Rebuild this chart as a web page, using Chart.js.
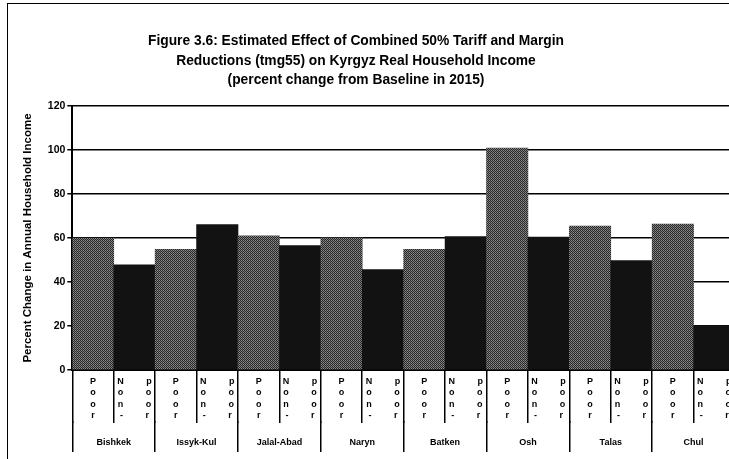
<!DOCTYPE html>
<html>
<head>
<meta charset="utf-8">
<script src="https://cdn.jsdelivr.net/npm/chart.js@4/dist/chart.umd.min.js"></script>
<style>
  html, body { margin: 0; padding: 0; background: #fff; overflow: hidden; }
  #wrap { position: relative; width: 740px; height: 459px; }
  #frame { position: absolute; left: 7px; top: 3px; width: 740px; height: 470px;
           border-left: 1.5px solid #000; border-top: 1.5px solid #000; }
  #title { position: absolute; left: 156px; width: 400px; top: 31px; text-align: center;
           font: bold 13.8px "Liberation Sans", Arial, sans-serif; line-height: 19.5px; color: #000;
           white-space: nowrap; }
  #title div { margin-left: -100px; margin-right: -100px; }
</style>
</head>
<body>
<div id="wrap">
  <div id="frame"></div>
  <canvas id="chart" width="740" height="459"></canvas>
  <div id="title">
    <div>Figure 3.6: Estimated Effect of Combined 50% Tariff and Margin</div>
    <div>Reductions (tmg55) on Kyrgyz Real Household Income</div>
    <div>(percent change from Baseline in 2015)</div>
  </div>
</div>
<script>
// valores (cambio % respecto a la línea base 2015)
const regions = ["Bishkek", "Issyk-Kul", "Jalal-Abad", "Naryn", "Batken", "Osh", "Talas", "Chul"];
const poor    = [60.0, 54.8, 61.0, 60.1, 54.8, 100.9, 65.4, 66.3];
const nonPoor = [47.8, 66.1, 56.6, 45.7, 60.7, 60.4, 49.7, 20.2];
const poorLabel    = ["P", "o", "o", "r"];
const nonPoorLabel = ["N         p", "o         o", "n         o", "-         r"];
const yMin = 0, yMax = 120, yStep = 20;

const FONT = "'Liberation Sans', Arial, sans-serif";

// trama gris punteada para las barras "Poor"
function ditherPattern() {
  const c = document.createElement("canvas");
  c.width = 2; c.height = 2;
  const g = c.getContext("2d");
  g.fillStyle = "#262626"; g.fillRect(0, 0, 2, 2);
  g.fillStyle = "#8e8e8e"; g.fillRect(1, 0, 1, 1);
  g.fillStyle = "#767676"; g.fillRect(0, 1, 1, 1);
  return g.createPattern(c, "repeat");
}
const poorFill = ditherPattern();
const nonPoorFill = "#121212";

const labels = [], values = [], fills = [];
regions.forEach((r, i) => {
  labels.push(poorLabel);    values.push(poor[i]);    fills.push(poorFill);
  labels.push(nonPoorLabel); values.push(nonPoor[i]); fills.push(nonPoorFill);
});

// las etiquetas se meten dentro de las marcas con padding negativo,
// así que la altura de cada eje se fija a mano en afterFit
new Chart(document.getElementById("chart"), {
  type: "bar",
  data: {
    labels,
    datasets: [{ data: values, backgroundColor: fills, borderWidth: 0,
                 categoryPercentage: 1, barPercentage: 1 }],
  },
  options: {
    responsive: false,
    animation: false,
    layout: { padding: { top: 106, left: 21, right: 5, bottom: 4 } },
    plugins: { legend: { display: false }, tooltip: { enabled: false } },
    scales: {
      x: {
        offset: true,
        grid: { display: true, drawOnChartArea: false, offset: true, color: "#000",
                lineWidth: 1.5, tickLength: 53 },
        border: { display: true, color: "#000", width: 2 },
        ticks: { color: "#000", padding: -47, maxRotation: 0, autoSkip: false,
                 font: { family: FONT, size: 9, weight: "bold", lineHeight: 1.25 } },
        afterFit: (s) => { s.height = 51; },
      },
      x2: {
        type: "category",
        labels: regions,
        position: "bottom",
        offset: true,
        grid: { display: true, drawOnChartArea: false, offset: true, color: "#000",
                lineWidth: 1.5, tickLength: 31 },
        border: { display: false },
        ticks: { color: "#000", padding: -15, maxRotation: 0, autoSkip: false,
                 font: { family: FONT, size: 9, weight: "bold" } },
        afterFit: (s) => { s.height = 34; },
      },
      y: {
        min: yMin, max: yMax,
        ticks: { stepSize: yStep, color: "#000", padding: 2,
                 font: { family: FONT, size: 10.5, weight: "bold" } },
        grid: { color: "#000", lineWidth: 1.5, tickLength: 5 },
        border: { display: true, color: "#000", width: 2 },
        title: { display: true, text: "Percent Change in Annual Household Income", color: "#000",
                 padding: { top: 0, bottom: 11 },
                 font: { family: FONT, size: 11.5, weight: "bold" } },
      },
    },
  },
});
</script>
</body>
</html>
